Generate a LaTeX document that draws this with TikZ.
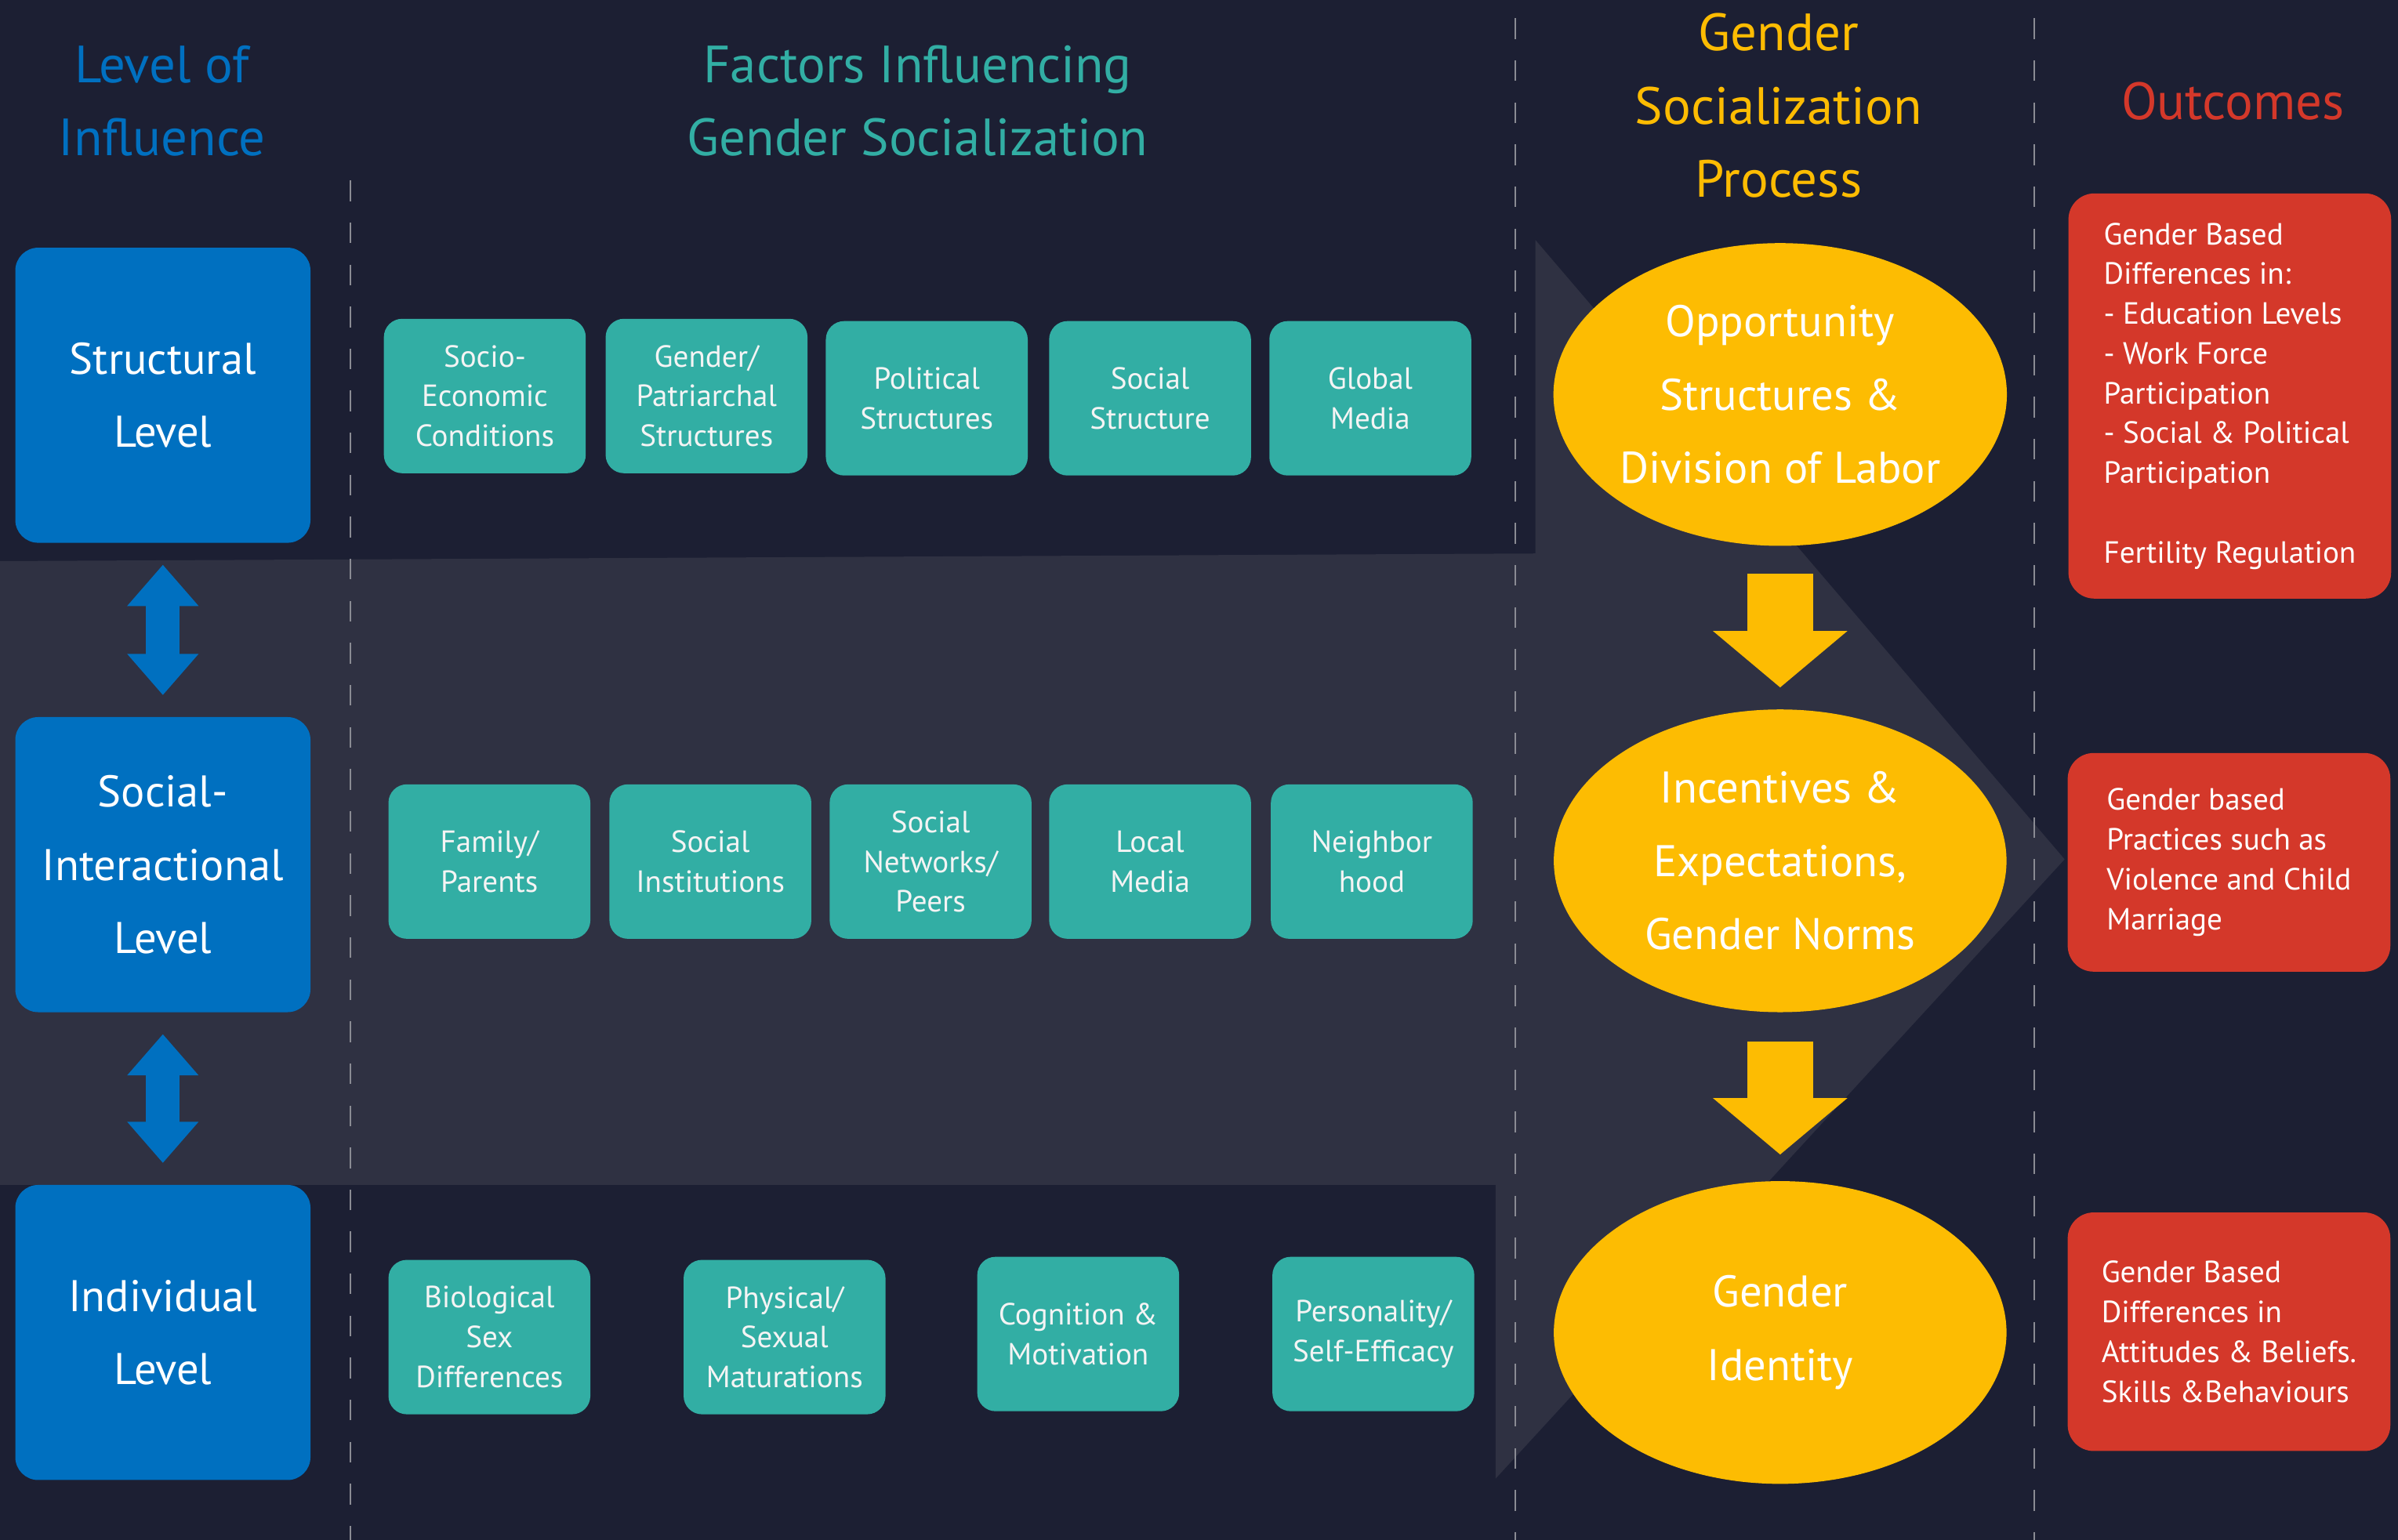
\documentclass[tikz,border=0pt]{standalone}
\usepackage{fontspec}
\setmainfont{PT Sans}
\usetikzlibrary{shapes.geometric,arrows.meta}

\definecolor{bgnavy}{HTML}{1C1F33}
\definecolor{bandgrey}{HTML}{2F3142}
\definecolor{lvlblue}{HTML}{0070C0}
\definecolor{factorteal}{HTML}{32AEA4}
\definecolor{procyellow}{HTML}{FDBC02}
\definecolor{outred}{HTML}{D4382A}
\definecolor{rulegrey}{HTML}{8A8B93}
\definecolor{boxtext}{HTML}{F4F4F4}

\begin{document}
\begin{tikzpicture}[x=0.2mm, y=-0.2mm,
  header/.style={align=center, font=\fontsize{19.5}{27.3}\selectfont},
  levelbox/.style={fill=lvlblue, rounded corners=3mm, minimum width=38.6mm, minimum height=38.6mm,
    inner sep=0pt, text=white, align=center, font=\fontsize{16.5}{27.3}\selectfont},
  factor/.style={fill=factorteal, rounded corners=2.4mm, minimum width=26.4mm, minimum height=20.2mm,
    inner sep=0pt, text=boxtext, align=center, font=\fontsize{11.4}{14.8}\selectfont},
  process/.style={ellipse, fill=procyellow, minimum width=59.2mm, minimum height=39.6mm,
    inner sep=0pt, text=white, align=center, font=\fontsize{16.5}{27.3}\selectfont},
  outcome/.style={fill=outred, rounded corners=3.4mm, minimum width=42.2mm,
    inner sep=0pt, text=white, align=left, font=\fontsize{11.4}{14.8}\selectfont},
  divider/.style={draw=rulegrey, line width=0.6pt, dash pattern=on 2.7mm off 2.8mm},
  lvlarrow/.style={draw=lvlblue, line width=4.4mm, shorten <=2.8mm, shorten >=2.8mm,
    {Triangle[width=9mm,length=5.4mm]}-{Triangle[width=9mm,length=5.4mm]}},
  procarrow/.style={draw=procyellow, line width=8.6mm, -{Triangle[width=17.2mm,length=7.4mm]}}]

  % canvas and the wide arrow behind the middle row
  \useasboundingbox (0,0) rectangle (1568,1007);
  \fill[bgnavy] (0,0) rectangle (1568,1007);
  \fill[bandgrey] (0,367) -- (1004,362) -- (1004,157) -- (1350,562)
    -- (978,967) -- (978,775) -- (0,775) -- cycle;

  % column dividers
  \draw[divider] (229,118) -- (229,1007);
  \draw[divider] (991,12) -- (991,1007);
  \draw[divider] (1330,12) -- (1330,1007);

  % column headers
  \node[header, text=lvlblue] (hlevel) at (106,66) {Level of\\Influence};
  \node[header, text=factorteal] (hfactors) at (600,66) {Factors Influencing\\Gender Socialization};
  \node[header, text=procyellow] (hprocess) at (1163,69) {Gender\\Socialization\\Process};
  \node[header, text=outred] (houtcomes) at (1460,66) {Outcomes};

  % levels
  \node[levelbox] (structural) at (106.5,258.5) {Structural\\Level};
  \node[levelbox] (social) at (106.5,565.5) {Social-\\Interactional\\Level};
  \node[levelbox] (individual) at (106.5,871.5) {Individual\\Level};
  \draw[lvlarrow] (structural) -- (social);
  \draw[lvlarrow] (social) -- (individual);

  % factors, structural row
  \node[factor] (socioecon) at (317,259) {Socio-\\Economic\\Conditions};
  \node[factor] (patriarchal) at (462,259) {Gender/\\Patriarchal\\Structures};
  \node[factor] (political) at (606,260.5) {Political\\Structures};
  \node[factor] (socstruct) at (752,260.5) {Social\\Structure};
  \node[factor] (globalmedia) at (896,260.5) {Global\\Media};

  % factors, social-interactional row
  \node[factor] (family) at (320,563.5) {Family/\\Parents};
  \node[factor] (institutions) at (464.5,563.5) {Social\\Institutions};
  \node[factor] (networks) at (608.5,563.5) {Social\\Networks/\\Peers};
  \node[factor] (localmedia) at (752,563.5) {Local\\Media};
  \node[factor] (neighborhood) at (897,563.5) {Neighbor\\hood};

  % factors, individual row
  \node[factor] (biosex) at (320,874.5) {Biological\\Sex\\Differences};
  \node[factor] (maturation) at (513,874.5) {Physical/\\Sexual\\Maturations};
  \node[factor] (cognition) at (705,872.5) {Cognition \&\\Motivation};
  \node[factor] (personality) at (898,872.5) {Personality/\\Self-Efficacy};

  % socialization process
  \node[process] (opportunity) at (1164,258) {Opportunity\\Structures \&\\Division of Labor};
  \node[process] (norms) at (1164,563) {Incentives \&\\Expectations,\\Gender Norms};
  \node[process] (identity) at (1164,871.5) {Gender\\Identity};
  \draw[procarrow, shorten <=3.6mm, shorten >=2.8mm] (opportunity) -- (norms);
  \draw[procarrow, shorten <=3.8mm, shorten >=3.4mm] (norms) -- (identity);

  % outcomes
  \node[outcome, minimum height=53mm] (diffs) at (1458,259)
    {Gender Based\\Differences in:\\- Education Levels\\- Work Force\\Participation\\
     - Social \& Political\\Participation\\[14.8pt]Fertility Regulation};
  \node[outcome, minimum height=28.6mm] (practices) at (1457.5,564)
    {Gender based\\Practices such as\\Violence and Child\\Marriage};
  \node[outcome, minimum height=31.2mm] (attitudes) at (1457.5,871)
    {Gender Based\\Differences in\\Attitudes \& Beliefs.\\Skills \&Behaviours};
\end{tikzpicture}
\end{document}
